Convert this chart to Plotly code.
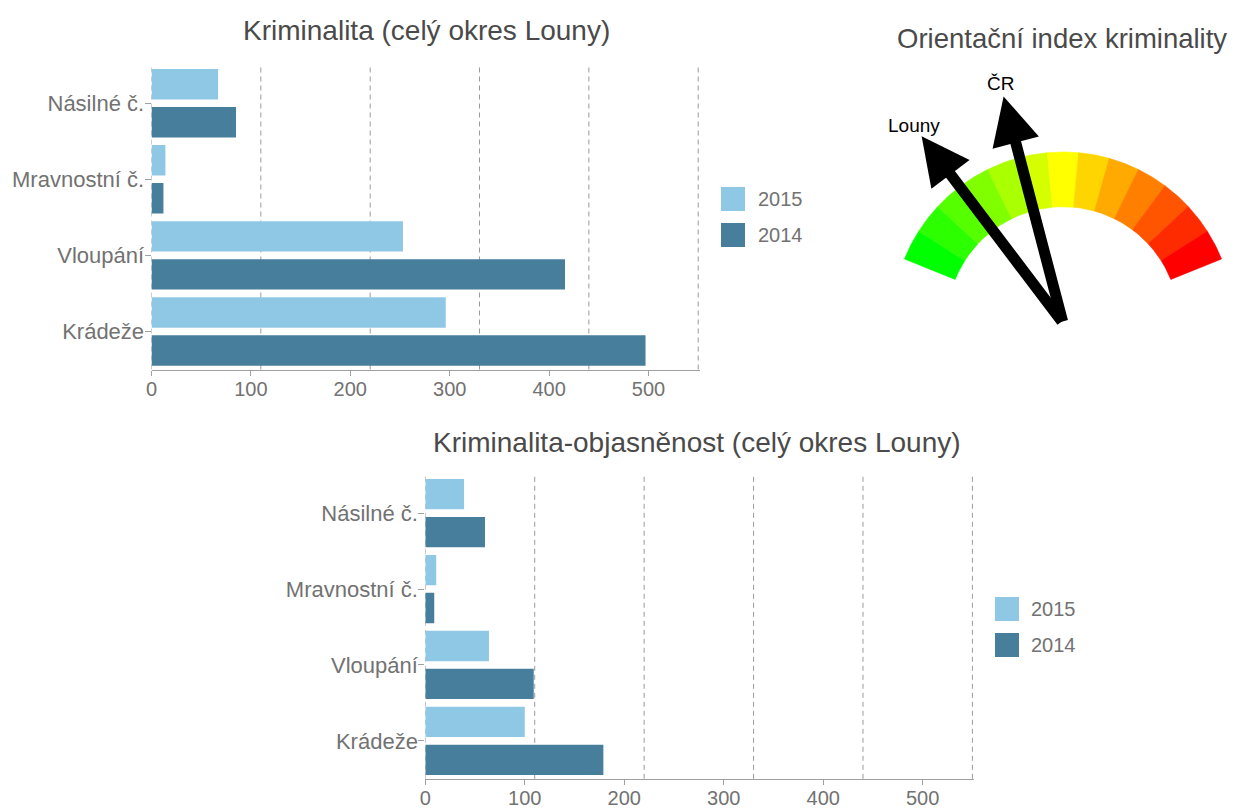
import math
import plotly.graph_objects as go

# ---------------- data ----------------
categories = ['Násilné č.', 'Mravnostní č.', 'Vloupání', 'Krádeže']
year_labels = ['2015', '2014']
crime_2015 = [67, 14, 253, 296]
crime_2014 = [85, 12, 416, 497]
solved_2015 = [39, 11, 64, 100]
solved_2014 = [60, 9, 109, 179]
x_tick_vals = [0, 100, 200, 300, 400, 500]
grid_vals = [0, 110, 220, 330, 440, 550]
x_max = 552

gauge_colors = ['#00ff00', '#2bff00', '#55ff00', '#80ff00', '#aaff00', '#d5ff00', '#ffff00',
                '#ffd500', '#ffaa00', '#ff8000', '#ff5500', '#ff2b00', '#ff0000']
gauge_labels = ['Louny', 'ČR']
gauge_values = [22.7, 39.2]
gauge_min, gauge_max = 0, 100

titles = ['Kriminalita (celý okres Louny)', 'Kriminalita-objasněnost (celý okres Louny)',
          'Orientační index kriminality']

# ---------------- style ----------------
W, H = 1235, 808
FONT = 'Liberation Sans, Arial, sans-serif'
C15 = '#8fc8e5'
C14 = '#467e9c'
TXT = '#727272'
TITLE_C = '#4a4a4a'
GRID_C = '#9a9a9a'


def px(x):
    return x / W


def py(y):
    return 1 - y / H


fig = go.Figure()

# bars
for vals, col, name in [(crime_2015, C15, year_labels[0]), (crime_2014, C14, year_labels[1])]:
    fig.add_trace(go.Bar(y=categories, x=vals, orientation='h', name=name,
                         marker=dict(color=col, line=dict(width=0)),
                         xaxis='x', yaxis='y', showlegend=False))
for vals, col, name in [(solved_2015, C15, year_labels[0]), (solved_2014, C14, year_labels[1])]:
    fig.add_trace(go.Bar(y=categories, x=vals, orientation='h', name=name,
                         marker=dict(color=col, line=dict(width=0)),
                         xaxis='x2', yaxis='y2', showlegend=False))

# gauge arc
A0, A1 = 158.0, 22.0
R_IN, R_OUT = 0.68, 1.0
NEEDLE_LEN = 1.37
n_seg = len(gauge_colors)
step = (A0 - A1) / n_seg
for i, col in enumerate(gauge_colors):
    a_start = A0 - i * step
    a_end = a_start - step
    n = 12
    angs = [math.radians(a_start + (a_end - a_start) * k / n) for k in range(n + 1)]
    xs = [R_OUT * math.cos(a) for a in angs] + [R_IN * math.cos(a) for a in reversed(angs)]
    ys = [R_OUT * math.sin(a) for a in angs] + [R_IN * math.sin(a) for a in reversed(angs)]
    xs.append(xs[0])
    ys.append(ys[0])
    fig.add_trace(go.Scatter(x=xs, y=ys, mode='lines', fill='toself', fillcolor=col,
                             line=dict(color=col, width=0.6), hoverinfo='skip',
                             showlegend=False, xaxis='x3', yaxis='y3'))


def val_to_angle(v):
    return math.radians(A0 - (v - gauge_min) / (gauge_max - gauge_min) * (A0 - A1))


annotations = []
for lab, v in zip(gauge_labels, gauge_values):
    a = val_to_angle(v)
    tx, ty = NEEDLE_LEN * math.cos(a), NEEDLE_LEN * math.sin(a)
    annotations.append(dict(x=tx, y=ty, xref='x3', yref='y3', ax=0, ay=0, axref='x3', ayref='y3',
                            text='', showarrow=True, arrowhead=2, arrowwidth=11, arrowsize=0.87,
                            arrowcolor='black', standoff=0))
    lr = NEEDLE_LEN + 0.075
    annotations.append(dict(x=lr * math.cos(a), y=lr * math.sin(a), xref='x3', yref='y3',
                            text=lab, showarrow=False, xanchor='center', yanchor='middle',
                            font=dict(family=FONT, size=19, color='black')))

# titles
annotations.append(dict(x=px(426), y=py(30), xref='paper', yref='paper', text=titles[0],
                        showarrow=False, xanchor='center', yanchor='middle',
                        font=dict(family=FONT, size=28, color=TITLE_C)))
annotations.append(dict(x=px(697), y=py(442), xref='paper', yref='paper', text=titles[1],
                        showarrow=False, xanchor='center', yanchor='middle',
                        font=dict(family=FONT, size=28, color=TITLE_C)))
annotations.append(dict(x=px(1062), y=py(38), xref='paper', yref='paper', text=titles[2],
                        showarrow=False, xanchor='center', yanchor='middle',
                        font=dict(family=FONT, size=27.5, color=TITLE_C)))

shapes = []
# dashed grid lines
for xr, yr in [('x', 'y'), ('x2', 'y2')]:
    for g in grid_vals:
        shapes.append(dict(type='line', x0=g, x1=g, xref=xr, y0=0, y1=1, yref=yr + ' domain',
                           line=dict(color=GRID_C, width=1, dash='5px,4px'), layer='below'))

# legends (manual, large swatches)
for (sx, sy0, tx) in [(721, 187, 756), (995, 597, 1029)]:
    for k, (lab, col) in enumerate(zip(year_labels, [C15, C14])):
        y0 = sy0 + k * 36
        shapes.append(dict(type='rect', xref='paper', yref='paper', x0=px(sx), x1=px(sx + 24),
                           y0=py(y0 + 24), y1=py(y0), fillcolor=col, line=dict(width=0)))
        annotations.append(dict(x=px(tx), y=py(y0 + 12), xref='paper', yref='paper', text=lab,
                                showarrow=False, xanchor='left', yanchor='middle',
                                font=dict(family=FONT, size=20, color=TXT)))

xaxis_common = dict(range=[0, x_max], tickvals=x_tick_vals, showgrid=False, zeroline=False,
                    showline=True, linecolor='#a0a0a0', linewidth=1, ticks='outside', ticklen=5,
                    tickcolor='#a0a0a0', tickfont=dict(family=FONT, size=20, color=TXT),
                    ticklabelstandoff=-4, fixedrange=True, automargin=False)
yaxis_common = dict(type='category', range=[3.5, -0.5], showgrid=False, zeroline=False,
                    showline=False, ticks='outside', ticklen=6, tickcolor='#a0a0a0',
                    tickfont=dict(family=FONT, size=22, color=TXT), ticklabelstandoff=-4,
                    fixedrange=True, automargin=False)

fig.update_layout(
    width=W, height=H,
    margin=dict(l=0, r=0, t=0, b=0, pad=0, autoexpand=False),
    paper_bgcolor='white', plot_bgcolor='rgba(0,0,0,0)',
    barmode='group', bargap=0, bargroupgap=0.2,
    showlegend=False,
    font=dict(family=FONT, color=TXT),
    xaxis=dict(domain=[px(151.5), px(700.2)], anchor='y', **xaxis_common),
    yaxis=dict(domain=[py(369.5), py(65.2)], anchor='x', **yaxis_common),
    xaxis2=dict(domain=[px(425.3), px(974.4)], anchor='y2', **xaxis_common),
    yaxis2=dict(domain=[py(778.8), py(475.2)], anchor='x2', **yaxis_common),
    xaxis3=dict(domain=[px(1063 - 1.05 * 171), px(1063 + 0.97 * 171)], anchor='y3',
                range=[-1.05, 0.97], visible=False, fixedrange=True, automargin=False),
    yaxis3=dict(domain=[py(323 + 0.1 * 171), py(323 - 1.5 * 171)], anchor='x3',
                range=[-0.1, 1.5], visible=False, fixedrange=True, automargin=False),
    annotations=annotations,
    shapes=shapes,
)

fig.write_html('out.html', config={'displayModeBar': False},
               post_script="document.body.style.margin='0';document.body.style.overflow='hidden';")
